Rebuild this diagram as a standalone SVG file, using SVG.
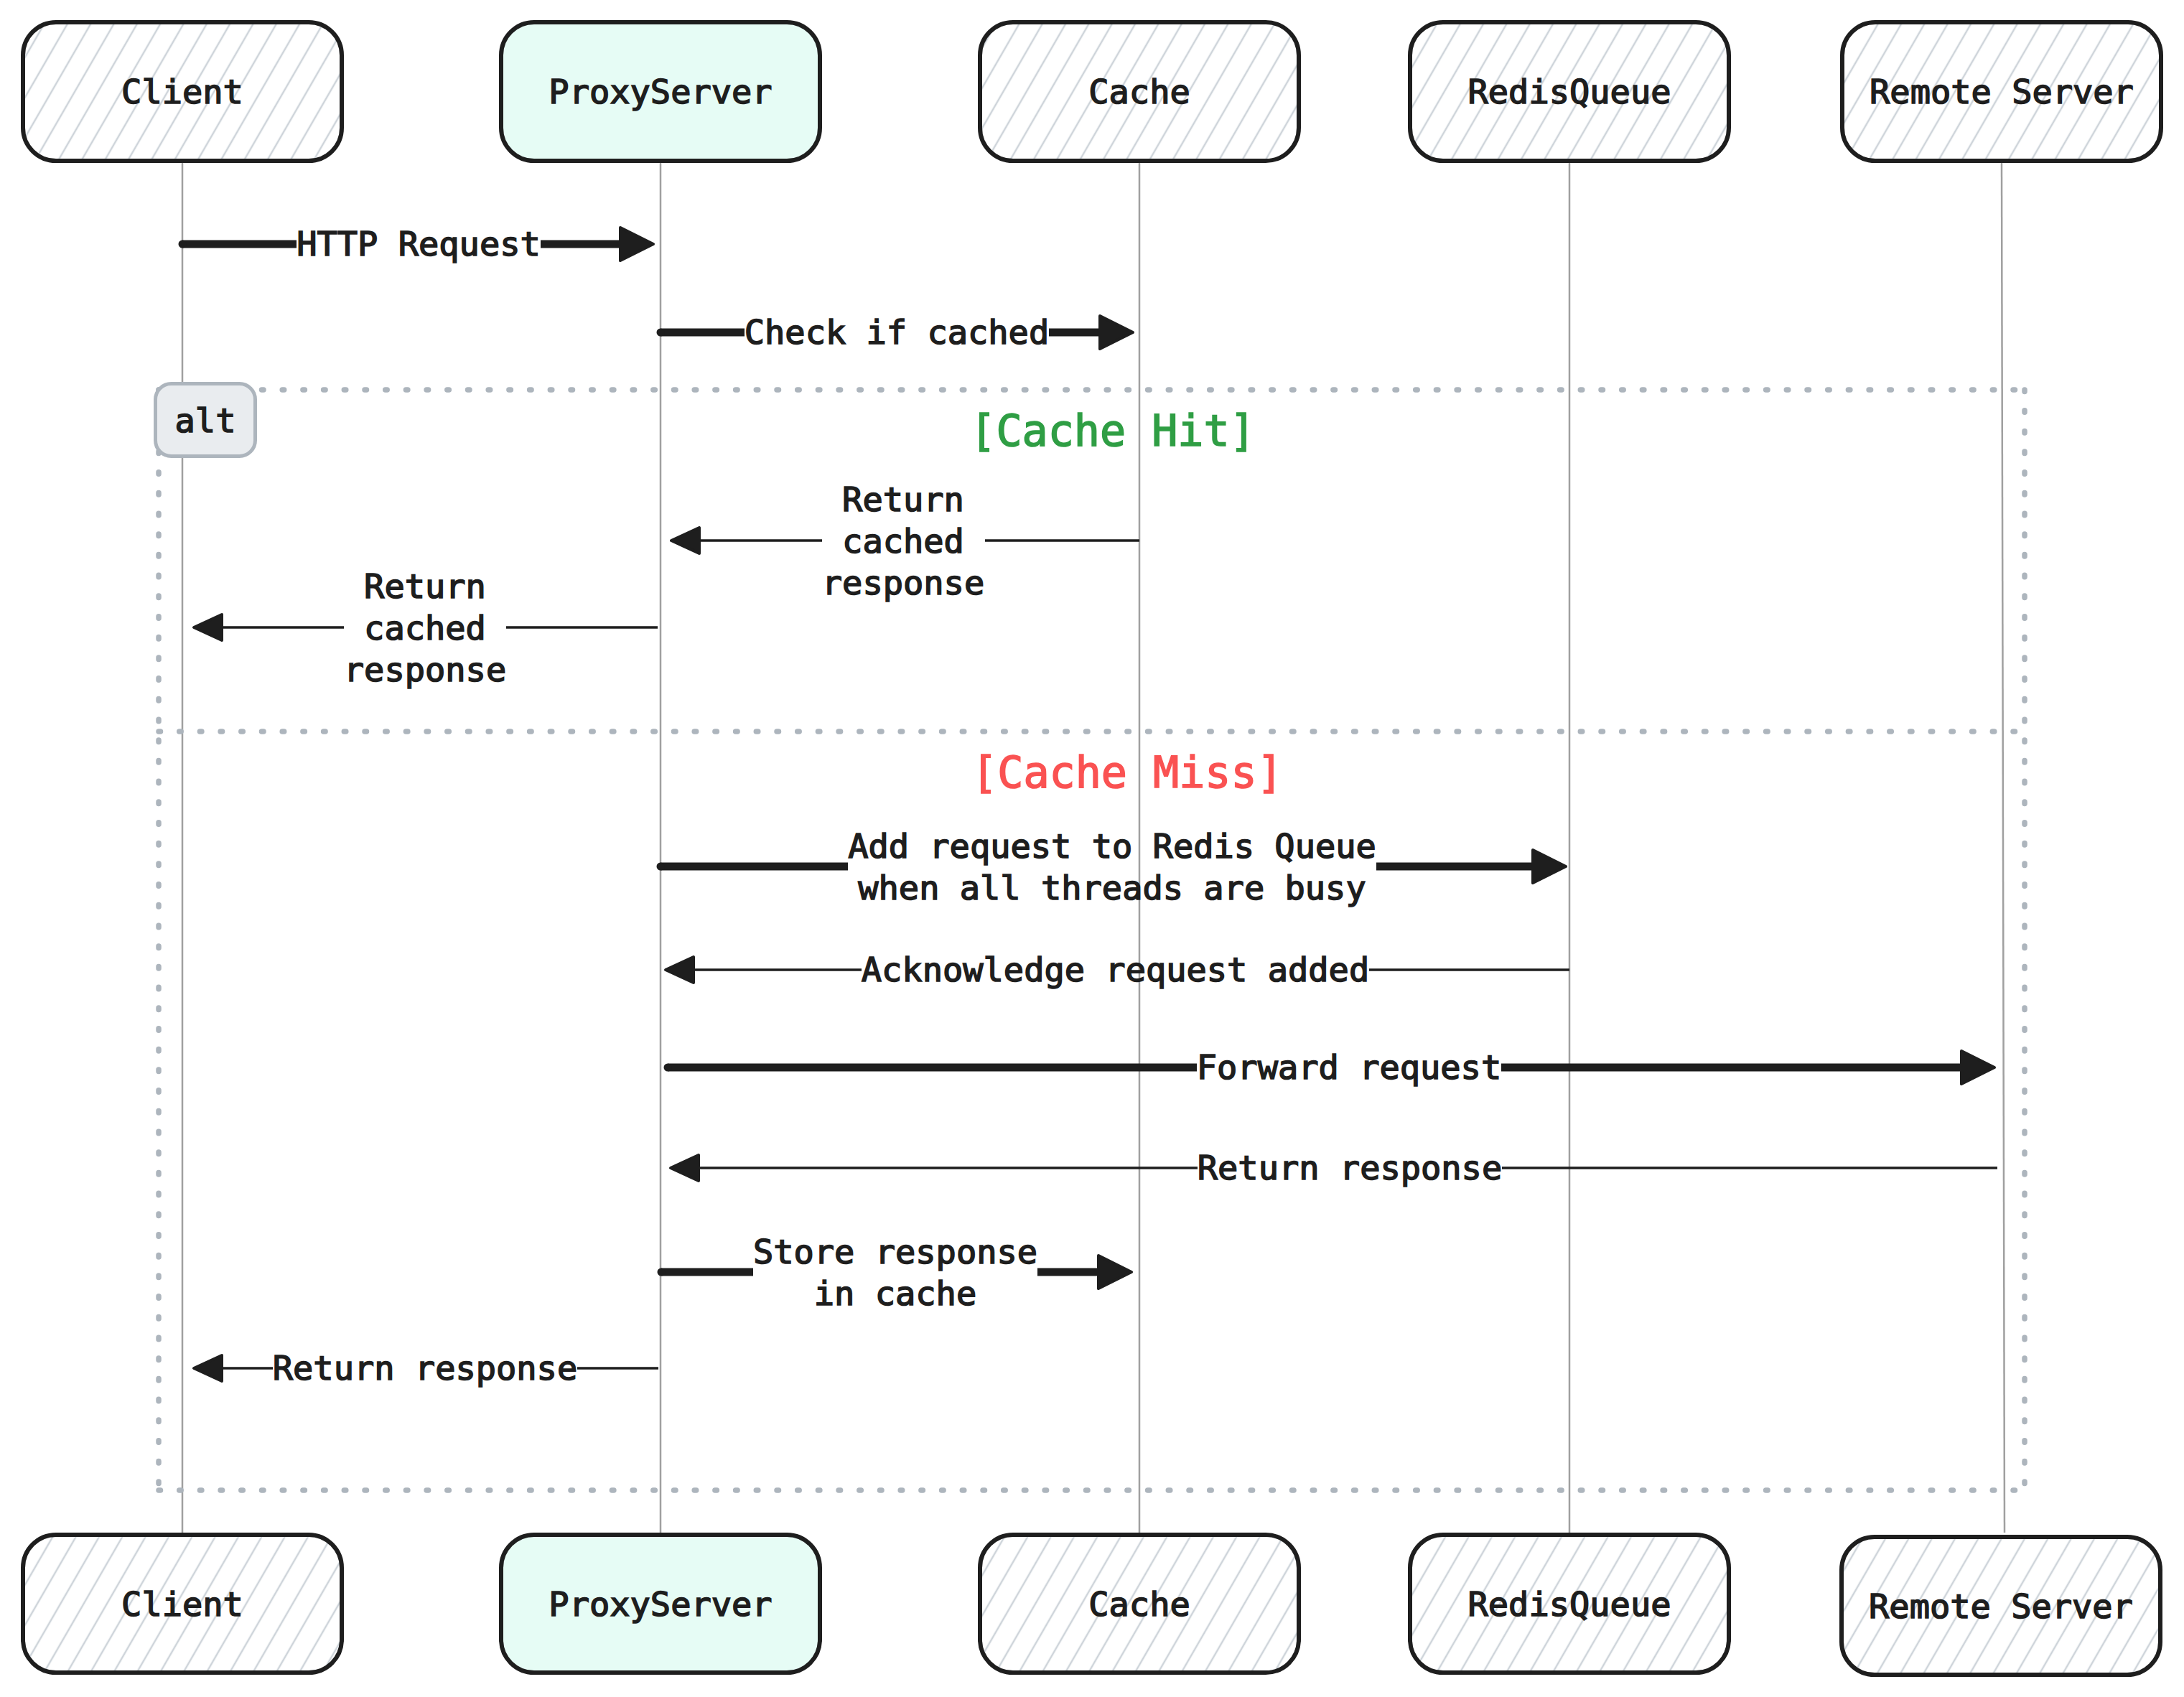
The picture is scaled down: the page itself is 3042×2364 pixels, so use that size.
<svg xmlns="http://www.w3.org/2000/svg" width="3042" height="2364" viewBox="0 0 3042 2364">
<defs>
<style>
.box{stroke:#1e1e1e;stroke-width:6;fill:url(#hatch)}
.proxy{stroke:#1e1e1e;stroke-width:6;fill:#e6fcf5}
.lbl{font-family:"DejaVu Sans Mono","Liberation Mono",monospace;font-size:47px;fill:#1e1e1e;stroke:#1e1e1e;stroke-width:1.6;text-anchor:middle}
.sec{font-family:"DejaVu Sans Mono","Liberation Mono",monospace;font-size:60px;stroke-width:1.6;text-anchor:middle}
.hit{fill:#2f9e44;stroke:#2f9e44}
.miss{fill:#fa5252;stroke:#fa5252}
.life{stroke:#a0a0a0;stroke-width:2.5;fill:none}
.thick{stroke:#1e1e1e;stroke-width:11;fill:none;stroke-linecap:butt;marker-start:url(#dot);marker-end:url(#headThick)}
.thin{stroke:#1e1e1e;stroke-width:3.5;fill:none;stroke-linecap:butt;marker-end:url(#headThin)}
.dots{stroke:#adb5bd;stroke-width:7.5;fill:none;stroke-linecap:round;stroke-dasharray:2.5 26.2}
</style>
<pattern id="hatch" patternUnits="userSpaceOnUse" width="28" height="28" patternTransform="rotate(30)">
<line x1="14" y1="-2" x2="14" y2="30" stroke="#ced4da" stroke-width="2.5"/>
</pattern>
<marker id="headThick" markerUnits="userSpaceOnUse" markerWidth="70" markerHeight="70" viewBox="-5 -35 70 70" refX="0" refY="0" orient="auto" overflow="visible">
<path d="M2,-23 L48,0 L2,23 Z" fill="#1e1e1e" stroke="#1e1e1e" stroke-width="4" stroke-linejoin="round"/>
</marker>
<marker id="headThin" markerUnits="userSpaceOnUse" markerWidth="60" markerHeight="60" viewBox="-5 -30 60 60" refX="0" refY="0" orient="auto" overflow="visible">
<path d="M2,-18 L41,0 L2,18 Z" fill="#1e1e1e" stroke="#1e1e1e" stroke-width="4" stroke-linejoin="round"/>
</marker>
<marker id="dot" markerUnits="userSpaceOnUse" markerWidth="12" markerHeight="12" viewBox="-6 -6 12 12" refX="0" refY="0" overflow="visible">
<circle r="5.5" fill="#1e1e1e"/>
</marker>
</defs>
<rect width="3042" height="2364" fill="#ffffff"/>

<g id="lifelines">
<path class="life" d="M254,227 V2135"/>
<path class="life" d="M920,227 V2135"/>
<path class="life" d="M1587,227 V2135"/>
<path class="life" d="M2186,227 V2135"/>
<path class="life" d="M2788,227 L2792,2135"/>
</g>

<g id="node-client-top"><rect class="box" x="32" y="31" width="444" height="193" rx="46"/><text class="lbl" x="254" y="144">Client</text></g>
<g id="node-proxy-top"><rect class="proxy" x="698" y="31" width="444" height="193" rx="46"/><text class="lbl" x="920" y="144">ProxyServer</text></g>
<g id="node-cache-top"><rect class="box" x="1365" y="31" width="444" height="193" rx="46"/><text class="lbl" x="1587" y="144">Cache</text></g>
<g id="node-redis-top"><rect class="box" x="1964" y="31" width="444" height="193" rx="46"/><text class="lbl" x="2186" y="144">RedisQueue</text></g>
<g id="node-remote-top"><rect class="box" x="2566" y="31" width="444" height="193" rx="46"/><text class="lbl" x="2788" y="144">Remote Server</text></g>

<g id="node-client-bottom"><rect class="box" x="32" y="2138" width="444" height="192" rx="46"/><text class="lbl" x="254" y="2251">Client</text></g>
<g id="node-proxy-bottom"><rect class="proxy" x="698" y="2138" width="444" height="192" rx="46"/><text class="lbl" x="920" y="2251">ProxyServer</text></g>
<g id="node-cache-bottom"><rect class="box" x="1365" y="2138" width="444" height="192" rx="46"/><text class="lbl" x="1587" y="2251">Cache</text></g>
<g id="node-redis-bottom"><rect class="box" x="1964" y="2138" width="444" height="192" rx="46"/><text class="lbl" x="2186" y="2251">RedisQueue</text></g>
<g id="node-remote-bottom"><rect class="box" x="2565" y="2141" width="444" height="192" rx="46"/><text class="lbl" x="2787" y="2254">Remote Server</text></g>

<g id="alt-frame">
<path class="dots" d="M221,543 H2820"/>
<path class="dots" d="M221,2076 H2820"/>
<path class="dots" d="M221,543 V2076"/>
<path class="dots" d="M2820,543 V2076"/>
<path class="dots" d="M221,1019 H2820"/>
<rect x="216.5" y="534.5" width="139" height="101" rx="22" fill="#e9ecef" stroke="#adb5bd" stroke-width="5"/>
<text class="lbl" x="286" y="602">alt</text>
<text class="sec hit" x="1550" y="621">[Cache Hit]</text>
<text class="sec miss" x="1570" y="1097">[Cache Miss]</text>
</g>

<g id="connectors">
<path class="thick" d="M254,340 H413 M753,340 H862"/>
<text class="lbl" x="583" y="356">HTTP Request</text>

<path class="thick" d="M920,463 H1037 M1461,463 H1530"/>
<text class="lbl" x="1249" y="479">Check if cached</text>

<path class="thin" d="M1587,753 H1372 M1145,753 H976"/>
<text class="lbl" x="1258" y="711.5">Return</text>
<text class="lbl" x="1258" y="769.5">cached</text>
<text class="lbl" x="1258" y="827.5">response</text>

<path class="thin" d="M916,874 H705 M479,874 H311"/>
<text class="lbl" x="592" y="832.5">Return</text>
<text class="lbl" x="592" y="890.5">cached</text>
<text class="lbl" x="592" y="948.5">response</text>

<path class="thick" d="M920,1207 H1181 M1917,1207 H2133"/>
<text class="lbl" x="1549" y="1194.5">Add request to Redis Queue</text>
<text class="lbl" x="1549" y="1252.5">when all threads are busy</text>

<path class="thin" d="M2186,1351 H1907 M1200,1351 H968"/>
<text class="lbl" x="1553.5" y="1367">Acknowledge request added</text>

<path class="thick" d="M930,1487 H1667 M2091,1487 H2730"/>
<text class="lbl" x="1879" y="1503">Forward request</text>

<path class="thin" d="M2782,1627 H2092 M1668,1627 H975"/>
<text class="lbl" x="1880" y="1643">Return response</text>

<path class="thick" d="M921,1772 H1049 M1445,1772 H1528"/>
<text class="lbl" x="1247" y="1759.5">Store response</text>
<text class="lbl" x="1247" y="1817.5">in cache</text>

<path class="thin" d="M917,1906 H804 M380,1906 H311"/>
<text class="lbl" x="592" y="1922">Return response</text>
</g>
</svg>
